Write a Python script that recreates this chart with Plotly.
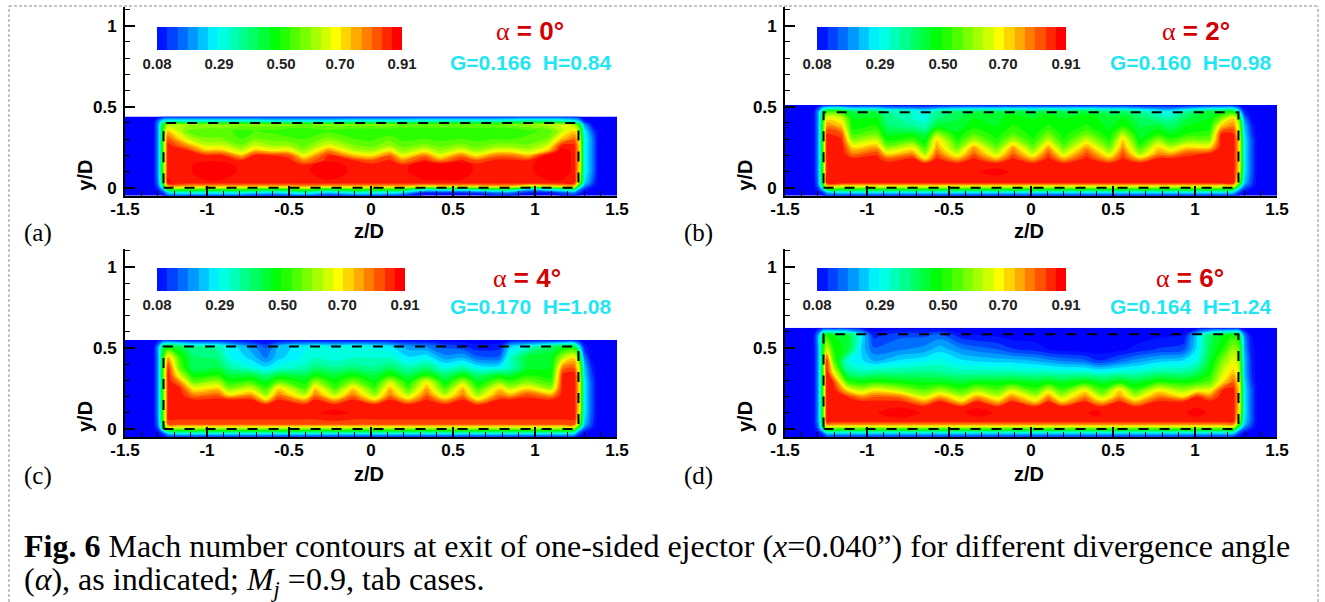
import plotly.graph_objects as go

W, H = 1325, 602

# Mach number x 100, one inner list per z column, bottom to top in y
Z_A = [-1.50,-1.33,-1.30,-1.27,-1.24,-1.12,-1.01,-0.91,-0.79,-0.71,-0.60,-0.50,-0.41,-0.26,-0.10,0.00,0.115,0.19,0.33,0.42,0.55,0.64,0.76,0.86,0.96,1.08,1.16,1.24,1.27,1.30,1.35,1.39,1.50]
Y_A = [-0.05,-0.03,-0.01,0.01,0.03,0.10,0.14,0.17,0.20,0.23,0.26,0.30,0.35,0.39,0.41,0.44]
M_A = [
[5]*16,
[6]*16,
[6,8,10,14,16,18,18,18,18,18,18,18,18,18,16,7],
[8,12,22,38,45,50,50,50,50,50,50,50,48,45,30,8],
[14,25,48,74,88,87,87,87,87,86,86,82,72,60,32,10],
[15,30,52,74,86,86,86,87,87,85,76,64,56,60,32,10],
[14,30,52,74,86,92,92,86,85,72,64,57,54,60,32,10],
[14,30,52,74,86,92,92,86,85,72,64,57,54,60,32,10],
[14,30,52,74,86,86,85,84,72,62,57,53,52,58,32,10],
[12,28,50,74,86,87,87,87,85,72,64,57,53,58,32,10],
[12,26,48,74,86,87,87,86,84,68,60,55,52,58,30,10],
[14,28,50,74,86,87,87,86,82,68,60,54,50,58,30,10],
[16,32,54,76,86,86,85,76,66,59,55,53,50,56,30,10],
[10,25,45,74,86,92,92,86,85,76,66,58,52,58,30,10],
[14,30,52,74,86,86,85,84,72,62,57,53,50,58,32,10],
[14,30,50,74,86,87,86,80,68,60,55,52,50,58,32,10],
[14,28,50,74,86,87,87,85,80,68,60,55,50,58,32,10],
[12,26,48,74,86,86,85,76,66,59,55,52,50,56,32,10],
[6,12,32,70,86,92,92,85,78,66,58,53,50,56,34,10],
[6,12,34,72,86,92,92,76,66,59,55,52,50,56,34,10],
[6,12,34,72,86,92,92,85,78,66,58,53,50,56,34,10],
[6,14,38,72,86,86,86,80,68,60,55,52,50,56,34,10],
[8,18,42,74,86,87,87,85,78,66,58,53,50,56,34,10],
[8,18,42,74,86,87,87,85,78,66,58,53,50,58,36,10],
[6,10,24,66,86,86,86,84,72,62,57,54,52,60,38,10],
[6,10,30,70,86,92,92,92,90,72,64,57,54,62,38,10],
[8,14,34,72,86,92,92,92,92,90,85,72,62,64,36,10],
[10,18,38,72,86,86,86,86,86,86,85,80,70,60,30,10],
[8,12,20,40,60,70,72,72,72,72,72,68,60,48,24,8],
[6,8,12,20,26,30,30,30,30,30,30,30,28,20,10,6],
[5,6,7,10,14,18,18,18,18,18,18,18,14,8,6,5],
[6]*16,
[5]*16,
]

Z_B = [-1.50,-1.33,-1.30,-1.27,-1.245,-1.155,-1.09,-0.94,-0.88,-0.72,-0.645,-0.575,-0.45,-0.35,-0.21,-0.11,0.014,0.106,0.197,0.34,0.48,0.56,0.665,0.776,0.85,0.95,1.09,1.16,1.235,1.27,1.30,1.34,1.38,1.50]
Y_B = [-0.05,-0.03,-0.01,0.01,0.03,0.10,0.15,0.18,0.21,0.25,0.29,0.33,0.38,0.43,0.47,0.51]
M_B = [
[5]*16,
[6]*16,
[6,8,10,14,16,18,18,18,18,18,18,18,18,18,18,8],
[8,12,24,40,46,50,50,50,50,50,50,50,50,48,40,10],
[12,22,46,70,86,87,87,87,87,87,87,85,78,68,50,10],
[12,26,48,68,86,87,87,87,87,87,85,82,72,64,50,10],
[12,26,48,68,85,87,87,85,78,70,60,52,48,46,42,9],
[12,26,48,68,85,87,87,86,83,74,65,56,50,46,42,9],
[12,26,48,68,85,87,86,80,70,58,50,45,40,38,36,8],
[12,26,48,68,85,87,86,85,76,66,54,46,36,32,32,8],
[12,26,48,68,85,87,85,68,60,52,46,42,34,30,30,8],
[12,26,48,68,85,87,87,85,80,75,72,60,44,38,36,8],
[12,26,48,68,85,87,85,73,64,55,50,47,44,42,40,9],
[12,26,48,68,85,87,87,85,80,74,62,54,48,46,42,9],
[12,26,48,68,85,89,85,72,63,55,50,48,46,45,42,9],
[12,26,48,68,85,87,87,85,80,74,62,54,50,48,44,9],
[12,26,48,68,85,87,85,73,64,55,50,48,47,46,42,9],
[12,26,48,68,85,87,87,86,82,74,64,56,50,48,44,9],
[12,26,48,68,85,87,85,73,64,55,50,48,47,46,42,9],
[12,26,48,68,85,87,87,86,82,75,65,56,50,48,44,9],
[12,26,48,68,85,87,85,73,64,55,50,47,45,44,40,9],
[12,26,48,68,85,87,87,85,82,76,72,62,50,46,40,9],
[12,26,48,68,85,87,86,72,60,52,46,44,42,40,36,8],
[12,26,48,68,85,87,87,85,76,70,60,50,44,36,30,8],
[12,26,48,68,85,87,87,85,74,62,52,46,40,34,28,8],
[12,26,48,68,85,87,87,86,82,70,58,50,46,42,36,8],
[12,26,48,68,85,87,87,87,85,70,58,52,48,46,44,9],
[12,26,48,68,85,87,87,87,87,87,87,85,72,56,46,9],
[12,24,44,68,85,87,87,87,87,87,87,85,78,70,46,8],
[8,12,22,40,56,68,70,70,70,70,70,66,62,52,28,7],
[6,8,12,18,24,28,28,28,28,28,28,26,24,18,10,6],
[5,6,8,12,14,16,16,16,16,16,16,14,12,8,6,5],
[5,5,6,6,6,7,7,7,7,7,7,6,6,6,5,5],
[5]*16,
]

Z_C = [-1.50,-1.33,-1.30,-1.27,-1.237,-1.17,-1.085,-0.93,-0.87,-0.73,-0.64,-0.565,-0.40,-0.34,-0.22,-0.11,0.023,0.115,0.227,0.34,0.45,0.56,0.65,0.785,0.846,0.95,1.10,1.17,1.24,1.27,1.30,1.34,1.38,1.50]
Y_C = [-0.05,-0.03,-0.01,0.01,0.03,0.10,0.15,0.18,0.21,0.25,0.29,0.33,0.38,0.44,0.51,0.55]
M_C = [
[5]*16,
[6]*16,
[6,8,10,14,16,18,18,18,18,18,18,18,18,18,18,8],
[8,12,24,40,46,50,50,50,50,50,50,50,50,48,40,10],
[12,22,46,66,82,87,87,87,87,87,87,87,85,74,46,10],
[12,26,48,66,82,87,87,87,87,86,78,66,56,52,42,9],
[12,26,48,66,82,87,87,85,78,68,56,48,40,40,36,8],
[12,26,48,66,82,87,87,86,80,71,60,50,42,38,34,8],
[12,26,48,66,82,87,86,85,70,58,50,44,36,30,28,8],
[12,26,48,66,82,87,86,85,76,64,52,44,30,24,20,7],
[12,26,48,66,82,87,85,70,60,52,46,38,26,18,14,6],
[12,26,48,66,82,87,87,85,78,70,55,44,30,24,22,7],
[12,26,48,66,82,87,85,74,62,53,48,42,34,30,28,8],
[12,26,48,66,82,87,87,85,78,72,60,48,38,32,30,8],
[12,26,48,66,82,89,85,74,62,53,48,44,36,30,28,8],
[12,26,48,66,82,87,87,85,78,71,58,48,38,32,30,8],
[12,26,48,66,82,87,85,70,60,52,47,43,36,32,28,8],
[12,26,48,66,82,87,87,85,78,73,64,50,40,32,26,8],
[12,26,48,66,82,87,85,72,62,53,47,42,34,26,20,7],
[12,26,48,66,82,87,87,85,80,74,68,50,38,28,18,7],
[12,26,48,66,82,87,85,74,62,53,46,40,30,20,14,6],
[12,26,48,66,82,87,87,85,78,73,62,48,34,22,12,6],
[12,26,48,66,82,87,84,70,60,52,46,40,28,16,9,6],
[12,26,48,66,82,87,87,85,78,71,58,46,28,16,10,6],
[12,26,48,66,82,87,87,85,74,62,52,44,32,32,24,7],
[12,26,48,66,82,87,87,86,82,70,58,50,44,44,30,8],
[12,26,48,66,82,87,87,85,75,60,52,48,46,46,40,8],
[12,26,48,66,82,87,87,87,87,87,87,86,78,62,44,8],
[12,24,44,66,82,87,87,87,87,87,87,87,80,70,44,8],
[8,12,22,40,56,68,70,70,70,70,70,68,64,52,26,7],
[6,8,12,18,24,28,28,28,28,28,28,26,24,18,10,6],
[5,6,8,12,14,16,16,16,16,16,16,14,12,8,6,5],
[5,5,6,6,6,7,7,7,7,7,7,6,6,6,5,5],
[5]*16,
]

Z_D = [-1.50,-1.33,-1.30,-1.27,-1.246,-1.205,-1.12,-1.03,-0.96,-0.80,-0.65,-0.555,-0.423,-0.331,-0.20,-0.12,0.03,0.106,0.187,0.33,0.40,0.44,0.54,0.634,0.777,0.93,1.01,1.09,1.17,1.234,1.27,1.30,1.34,1.38,1.50]
Y_D = [-0.05,-0.03,-0.01,0.01,0.03,0.05,0.10,0.14,0.17,0.20,0.24,0.29,0.35,0.42,0.49,0.58,0.625]
M_D = [
[5]*17,
[6]*17,
[6,8,10,14,16,18,18,18,18,18,18,18,18,18,18,18,8],
[8,12,24,38,44,46,48,48,48,48,48,48,48,48,46,42,9],
[12,22,42,62,78,87,87,87,87,87,87,87,87,86,66,50,9],
[12,22,42,62,78,86,87,87,87,87,87,84,68,55,50,46,9],
[12,22,42,62,78,86,87,87,86,84,70,52,38,30,44,44,9],
[12,22,42,62,78,86,87,87,85,76,62,48,34,26,24,26,8],
[12,22,42,62,78,86,87,87,85,80,68,50,36,22,16,10,6],
[12,22,42,62,78,86,90,87,85,78,62,48,36,26,18,14,6],
[12,22,42,62,78,86,87,85,74,64,54,46,37,28,20,14,6],
[12,22,42,62,78,86,87,87,85,74,60,46,36,30,24,16,6],
[12,22,42,62,78,86,87,84,70,62,52,44,34,26,19,9,5],
[12,22,42,62,78,86,89,87,84,74,60,46,34,25,17,8,5],
[12,22,42,62,78,86,87,84,72,64,54,46,34,24,15,7,5],
[12,22,42,62,78,86,87,87,84,76,64,47,34,24,12,6,5],
[12,22,42,62,78,86,87,84,70,62,52,45,33,22,10,6,5],
[12,22,42,62,78,86,87,87,84,76,64,47,33,20,8,6,5],
[12,22,42,62,78,86,87,84,70,62,52,45,32,18,7,5,5],
[12,22,42,62,78,86,87,87,84,77,68,48,32,16,6,5,5],
[12,22,42,62,78,86,89,85,74,66,55,46,30,12,6,5,5],
[12,22,42,62,78,86,87,84,72,62,52,44,30,12,6,5,5],
[12,22,42,62,78,86,87,87,84,76,70,48,32,16,7,5,5],
[12,22,42,62,78,86,87,84,72,62,52,44,32,20,9,6,5],
[12,22,42,62,78,86,87,87,85,78,68,50,36,24,12,7,5],
[12,22,42,62,78,86,87,87,84,70,60,48,36,26,14,8,5],
[12,22,42,62,78,86,89,87,86,84,66,50,40,30,26,24,7],
[12,22,42,62,78,86,87,87,85,78,66,54,48,44,42,40,8],
[12,22,42,62,78,86,87,87,87,87,85,70,64,58,50,46,8],
[12,22,42,62,78,86,87,87,87,87,86,80,72,66,60,50,8],
[8,12,20,36,52,62,68,70,70,70,70,68,64,60,56,44,8],
[6,8,12,18,24,26,28,28,28,28,28,26,24,24,22,18,6],
[5,6,8,12,14,16,16,16,16,16,16,14,12,12,10,8,5],
[5,5,6,6,6,7,7,7,7,7,7,6,6,6,6,5,5],
[5]*17,
]

RECT_TOP = {"a": 0.40, "b": 0.465, "c": 0.51, "d": 0.585}
RECT_Z = [-1.265, 1.265, 1.265, -1.265, -1.265]

CB_VALUES = [0.097,0.132,0.166,0.201,0.236,0.270,0.305,0.340,0.374,0.409,0.444,0.478,0.513,0.547,0.582,0.617,0.651,0.686,0.721,0.755,0.790,0.824,0.859,0.894]
CB_TICKS = [0.08, 0.29, 0.50, 0.70, 0.91]
CB_LABELS = ["0.08", "0.29", "0.50", "0.70", "0.91"]
X_TICKS = [-1.5, -1, -0.5, 0, 0.5, 1, 1.5]
X_LABELS = ["-1.5", "-1", "-0.5", "0", "0.5", "1", "1.5"]
Y_TICKS = [0, 0.5, 1]
Y_LABELS = ["0", "0.5", "1"]

COLORSCALE = [[0, "#0000ff"], [0.25, "#00ffff"], [0.5, "#00ff00"], [0.75, "#ffff00"], [1, "#ff0000"]]
MACH_MIN, MACH_MAX = 0.08, 0.91
COLOR_TOP = 0.89
SANS = "Liberation Sans"
SERIF = "Liberation Serif"
RED = "#d40000"
CYAN = "#1fe6f2"
ALPHA = "<span style='font-family:\"Liberation Serif\";font-weight:400'>α</span> "

PANELS = [
    dict(k="a", z=Z_A, y=Y_A, m=M_A, left=125, y0=187.7, top=7, cb=(157, 402, 27, 50), alpha="= 0°", ax=530, ay=31, gh="G=0.166  H=0.84", gx=530, gy=63, lbl=(22, 233), title_y=231),
    dict(k="b", z=Z_B, y=Y_B, m=M_B, left=785, y0=187.7, top=7, cb=(817, 1066, 27, 50), alpha="= 2°", ax=1196, ay=31, gh="G=0.160  H=0.98", gx=1190, gy=63, lbl=(682, 233), title_y=231),
    dict(k="c", z=Z_C, y=Y_C, m=M_C, left=125, y0=429, top=249, cb=(157, 405, 268, 291), alpha="= 4°", ax=527, ay=278, gh="G=0.170  H=1.08", gx=530, gy=306, lbl=(22, 476), title_y=474),
    dict(k="d", z=Z_D, y=Y_D, m=M_D, left=785, y0=429, top=249, cb=(817, 1066, 268, 291), alpha="= 6°", ax=1190, ay=278, gh="G=0.164  H=1.24", gx=1190, gy=306, lbl=(682, 476), title_y=474),
]

fig = go.Figure()
annotations = []


def px(x):
    return x / W


def py(y):
    return 1 - y / H


def text(x, y, s, size, color="black", family=SANS, weight=None, xanchor="center", angle=0):
    annotations.append(dict(
        x=px(x), y=py(y), xref="paper", yref="paper", text=s, showarrow=False, xanchor=xanchor,
        yanchor="middle", textangle=angle, font=dict(family=family, size=size, color=color, weight=weight),
    ))


for i, p in enumerate(PANELS):
    n = 2 * i + 1
    xa, ya, xb, yb = f"x{n}", f"y{n}", f"x{n+1}", f"y{n+1}"
    m = [[p["m"][c][r] / 100 for c in range(len(p["z"]))] for r in range(len(p["y"]))]
    fig.add_trace(go.Contour(
        x=p["z"], y=p["y"], z=m, xaxis=xa, yaxis=ya, colorscale=COLORSCALE, zmin=MACH_MIN, zmax=COLOR_TOP,
        autocontour=False, contours=dict(start=MACH_MIN, end=MACH_MAX, size=(MACH_MAX - MACH_MIN) / 24, coloring="fill"),
        line=dict(width=0), showscale=False, hoverinfo="skip",
    ))
    h = RECT_TOP[p["k"]]
    fig.add_trace(go.Scatter(
        x=RECT_Z, y=[0, 0, h, h, 0], xaxis=xa, yaxis=ya, mode="lines", hoverinfo="skip", showlegend=False,
        line=dict(color="black", width=2, dash="10px,11px"),
    ))
    fig.add_trace(go.Heatmap(
        x=CB_VALUES, y=[0], z=[CB_VALUES], xaxis=xb, yaxis=yb, colorscale=COLORSCALE, zmin=MACH_MIN, zmax=COLOR_TOP,
        showscale=False, hoverinfo="skip",
    ))
    bottom = p["y0"] + 8
    right = p["left"] + 492
    ymin = -8 / 162
    ymax = (p["y0"] - p["top"]) / 162
    common = dict(showgrid=False, zeroline=False, showline=True, linecolor="black", linewidth=2, ticks="inside",
                  ticklen=10, tickwidth=2, tickcolor="black", tickmode="array",
                  tickfont=dict(family=SANS, size=17, color="black", weight=700),
                  minor=dict(dtick=0.1, ticks="inside", ticklen=5, tickwidth=1, tickcolor="black"))
    fig.update_layout({
        f"xaxis{n}": dict(domain=[px(p["left"]), px(right)], anchor=ya, range=[-1.5, 1.5], tickvals=X_TICKS, ticktext=X_LABELS, ticklabelstandoff=-3, **common),
        f"yaxis{n}": dict(domain=[py(bottom), py(p["top"])], anchor=xa, range=[ymin, ymax], tickvals=Y_TICKS, ticktext=Y_LABELS, ticklabelstandoff=3, **common),
        f"xaxis{n+1}": dict(domain=[px(p["cb"][0]), px(p["cb"][1])], anchor=yb, range=[MACH_MIN, MACH_MAX], tickvals=CB_TICKS, ticktext=CB_LABELS,
                            showgrid=False, zeroline=False, showline=False, ticks="", ticklabelstandoff=3,
                            tickfont=dict(family=SANS, size=15, color="#222222", weight=700)),
        f"yaxis{n+1}": dict(domain=[py(p["cb"][3]), py(p["cb"][2])], anchor=xb, range=[-0.5, 0.5], showticklabels=False,
                            showgrid=False, zeroline=False, showline=False, ticks=""),
    })
    text(p["ax"], p["ay"], ALPHA + p["alpha"], 26, RED, weight=700)
    text(p["gx"], p["gy"], p["gh"], 21, CYAN, weight=700)
    text(p["lbl"][0], p["lbl"][1], f"({p['k']})", 25, family=SERIF, xanchor="left")
    text(p["left"] + 244, p["title_y"], "z/D", 20, weight=700)
    text(p["left"] - 40, p["y0"] - 12, "y/D", 20, weight=700, angle=-90)

text(22, 546, "<b>Fig. 6</b> Mach number contours at exit of one-sided ejector (<i>x</i>=0.040”) for different divergence angle", 32, family=SERIF, xanchor="left")
text(22, 581, "(<i>α</i>), as indicated; <i>M<sub>j</sub></i> =0.9, tab cases.", 32, family=SERIF, xanchor="left")

frame = dict(color="#8a8a8a", width=1, dash="3px,2px")
fig.update_layout(
    width=W, height=H, autosize=False, margin=dict(l=0, r=0, t=0, b=0, autoexpand=False), paper_bgcolor="white", plot_bgcolor="white",
    showlegend=False, annotations=annotations,
    shapes=[
        dict(type="line", xref="paper", yref="paper", x0=px(9), x1=px(9), y0=0, y1=py(6), line=frame),
        dict(type="line", xref="paper", yref="paper", x0=px(9), x1=px(1318), y0=py(6), y1=py(6), line=frame),
        dict(type="line", xref="paper", yref="paper", x0=px(1318), x1=px(1318), y0=0, y1=py(6), line=frame),
    ],
)

fig.write_html("out.html", config={"displayModeBar": False}, post_script="document.body.style.margin='0';")
